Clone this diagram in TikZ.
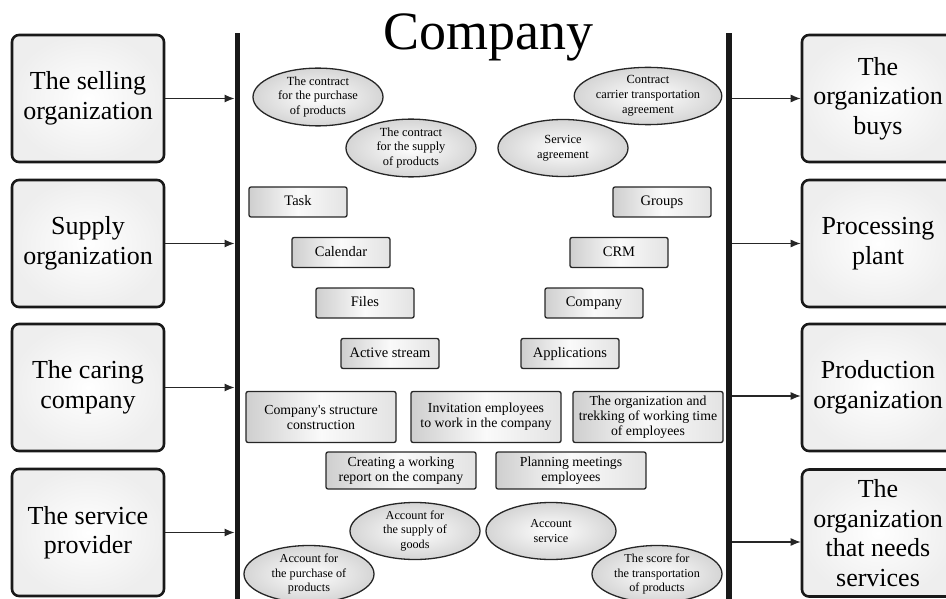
\documentclass[tikz,border=0pt]{standalone}
\usepackage{fontspec}
\setmainfont{Liberation Serif}
\usetikzlibrary{shapes.geometric,arrows.meta}
\begin{document}
\begin{tikzpicture}[x=1pt,y=-1pt,
  bigbox/.style={draw=black!90, line width=2.6pt, rounded corners=7pt, inner color=white, outer color=gray!13,
     minimum width=152, minimum height=127, inner sep=0pt, align=center,
     font=\fontsize{26}{29.5}\selectfont},
  ell/.style={ellipse, draw=black!85, line width=1.3pt, inner color=white, outer color=gray!33,
     minimum width=130, minimum height=57, inner sep=0pt, align=center,
     font=\fontsize{12.4}{14.8}\selectfont},
  shadebox/.style={draw=black!85, line width=1.3pt, rounded corners=2pt, left color=gray!38, right color=gray!22, middle color=gray!4,
     inner sep=0pt, align=center},
  rbox/.style={shadebox, minimum width=98, minimum height=30, text height=10pt, text depth=3pt,
     font=\fontsize{14.5}{16}\selectfont},
  wbox/.style={shadebox, minimum width=150, minimum height=51, font=\fontsize{13.8}{15}\selectfont},
  vline/.style={fill=black!90, minimum width=5.5, minimum height=566, inner sep=0pt},
  arr/.style={line width=1.2pt, black!85, -{Latex[length=10pt,width=8pt]}}
]
\useasboundingbox (0,0) rectangle (946,599);
\clip (0,0) rectangle (946,599);

\node[anchor=base, font=\fontsize{54}{60}\selectfont] (title) at (488,50) {Company};

\node[vline] (VL) at (237.5,316) {};
\node[vline] (VR) at (729,316) {};

% left boxes
\node[bigbox] (L1) at (88,98.5) {The selling\\organization};
\node[bigbox] (L2) at (88,243.5) {Supply\\organization};
\node[bigbox] (L3) at (88,387.5) {The caring\\company};
\node[bigbox] (L4) at (88,532.5) {The service\\provider};

% right boxes
\node[bigbox] (R1) at (878,98.5) {The\\organization\\buys};
\node[bigbox] (R2) at (878,243.5) {Processing\\plant};
\node[bigbox] (R3) at (878,387.5) {Production\\organization};
\node[bigbox] (R4) at (878,533) {The\\organization\\that needs\\services};

\draw[arr] (L1.east) -- (L1.east -| VL.west);
\draw[arr] (L2.east) -- (L2.east -| VL.west);
\draw[arr] (L3.east) -- (L3.east -| VL.west);
\draw[arr] (L4.east) -- (L4.east -| VL.west);

\draw[arr] (R1.west -| VR.east) -- (R1.west);
\draw[arr] (R2.west -| VR.east) -- (R2.west);
\draw[arr] ([yshift=-8.5pt]R3.west -| VR.east) -- ([yshift=-8.5pt]R3.west);
\draw[arr] ([yshift=-9pt]R4.west -| VR.east) -- ([yshift=-9pt]R4.west);

% top ellipses
\node[ell] (e1) at (318,97) {The contract\\for the purchase\\of products};
\node[ell] (e2) at (411,148) {The contract\\for the supply\\of products};
\node[ell] (e3) at (648,96) {Contract\\carrier transportation\\agreement};
\node[ell] (e4) at (563,148) {Service\\agreement};

% small boxes
\node[rbox] (task) at (298,202) {Task};
\node[rbox] (groups) at (662,202) {Groups};
\node[rbox] (cal) at (341,252.5) {Calendar};
\node[rbox] (crm) at (619,252.5) {CRM};
\node[rbox] (files) at (365,303) {Files};
\node[rbox] (comp) at (594,303) {Company};
\node[rbox] (act) at (390,353.5) {Active stream};
\node[rbox] (apps) at (570,353.5) {Applications};

% wide boxes
\node[wbox] (w1) at (321,417) {Company\textquotesingle s structure\\construction};
\node[wbox] (w2) at (486,417) {Invitation employees\\to work in the company};
\node[wbox] (w3) at (648,417) {The organization and\\trekking of working time\\of employees};
\node[wbox, minimum height=37] (w4) at (401,470.5) {Creating a working\\report on the company};
\node[wbox, minimum height=37] (w5) at (571,470.5) {Planning meetings\\employees};

% bottom ellipses
\node[ell, font=\fontsize{12.2}{14.4}\selectfont] (b1) at (415,531) {Account for\\the supply of\\goods};
\node[ell, font=\fontsize{12.2}{14.4}\selectfont] (b2) at (551,531) {Account\\service};
\node[ell, font=\fontsize{12.2}{14.4}\selectfont] (b3) at (309,574) {Account for\\the purchase of\\products};
\node[ell, font=\fontsize{12.2}{14.4}\selectfont] (b4) at (657,574) {The score for\\the transportation\\of products};
\end{tikzpicture}
\end{document}
